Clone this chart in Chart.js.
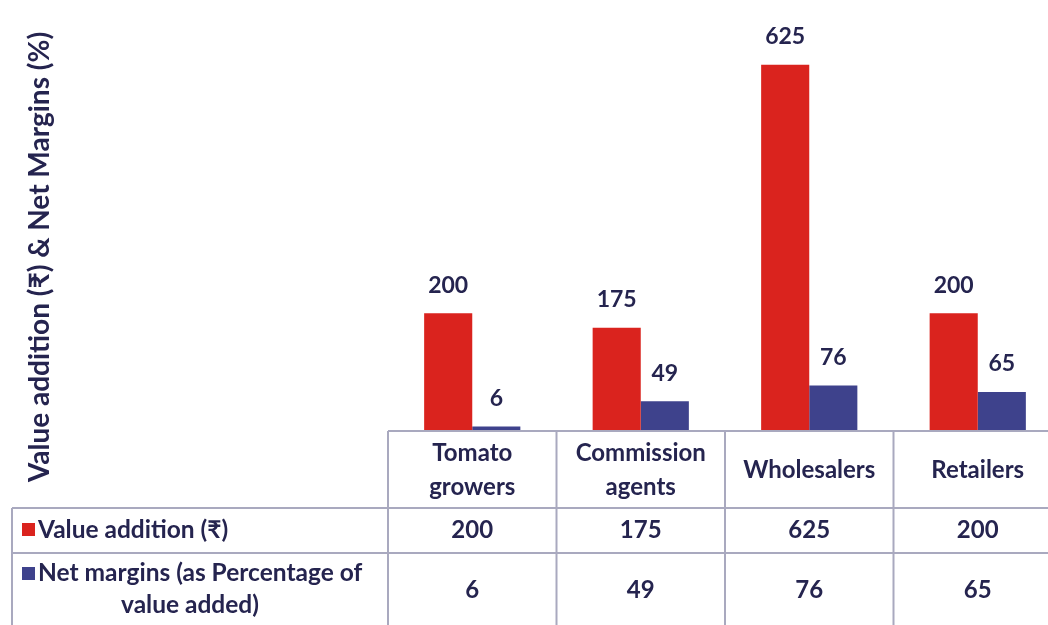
<!DOCTYPE html>
<html>
<head>
<meta charset="utf-8">
<script src="https://cdn.jsdelivr.net/npm/chart.js@4.4.1/dist/chart.umd.min.js"></script>
<style>
  html, body { margin: 0; padding: 0; background: #fff; overflow: hidden; }
  #wrap { width: 1048px; height: 625px; overflow: hidden; }
  #box { width: 1062px; height: 625px; }
</style>
</head>
<body>
<div id="wrap"><div id="box"><canvas id="valueChart"></canvas></div></div>
<script>
const categories = [['Tomato', 'growers'], ['Commission', 'agents'], ['Wholesalers'], ['Retailers']];
const valueAddition = [200, 175, 625, 200];
const netMargins = [6, 49, 76, 65];
const seriesNames = ['Value addition (₹)', ['Net margins (as Percentage of', 'value added)']];
const axisTitle = 'Value addition (₹) & Net Margins (%)';

const RED = 'rgb(218,35,30)';
const BLUE = 'rgb(62,66,140)';
const INK = '#25244f';
const LINE = '#a9a9bf';
const FONT = "Lato, 'Noto Sans', sans-serif";

// bar value labels, y axis title and the data table under the plot
const tablePlugin = {
  id: 'tablePlugin',
  afterDatasetsDraw(chart) {
    const ctx = chart.ctx;
    ctx.save();
    ctx.fillStyle = INK;
    ctx.font = 'bold 23px ' + FONT;
    ctx.textAlign = 'center';
    ctx.textBaseline = 'middle';
    chart.data.datasets.forEach((ds, i) => {
      chart.getDatasetMeta(i).data.forEach((bar, j) => {
        ctx.fillText(String(ds.data[j]), bar.x, bar.y - 28);
      });
    });
    ctx.restore();
  },
  afterDraw(chart) {
    const ctx = chart.ctx;
    const area = chart.chartArea;
    const xs = chart.scales.x;
    const step = (area.right - area.left) / categories.length;
    const bottom = chart.height;
    ctx.save();

    // grid of the table
    ctx.strokeStyle = LINE;
    ctx.lineWidth = 2;
    ctx.beginPath();
    ctx.moveTo(area.left, 431); ctx.lineTo(chart.width, 431);
    ctx.moveTo(12, 508); ctx.lineTo(chart.width, 508);
    ctx.moveTo(12, 553); ctx.lineTo(chart.width, 553);
    ctx.moveTo(12, 508); ctx.lineTo(12, bottom);
    for (let i = 0; i < categories.length; i++) {
      const x = area.left + i * step;
      ctx.moveTo(x, 431); ctx.lineTo(x, bottom);
    }
    ctx.stroke();

    ctx.fillStyle = INK;
    ctx.textBaseline = 'middle';
    ctx.textAlign = 'center';
    ctx.font = 'bold 24px ' + FONT;
    categories.forEach((lines, i) => {
      const cx = xs.getPixelForValue(i);
      if (lines.length === 2) {
        ctx.fillText(lines[0], cx, 453);
        ctx.fillText(lines[1], cx, 487);
      } else {
        ctx.fillText(lines[0], cx, 470);
      }
      ctx.fillText(String(valueAddition[i]), cx, 530);
      ctx.fillText(String(netMargins[i]), cx, 590);
    });

    // legend keys
    ctx.fillStyle = RED;
    ctx.fillRect(22, 523, 13, 13);
    ctx.fillStyle = BLUE;
    ctx.fillRect(22, 567, 13, 13);
    ctx.fillStyle = INK;
    ctx.textAlign = 'left';
    ctx.font = 'bold 24.5px ' + FONT;
    ctx.fillText(seriesNames[0], 38, 530);
    ctx.fillText(seriesNames[1][0], 38, 573);
    ctx.textAlign = 'center';
    ctx.fillText(seriesNames[1][1], 190, 605);

    // y axis title
    ctx.translate(40, 257);
    ctx.rotate(-Math.PI / 2);
    ctx.font = 'bold 28px ' + FONT;
    ctx.fillText(axisTitle, 0, 0);
    ctx.restore();
  }
};

new Chart(document.getElementById('valueChart'), {
  type: 'bar',
  data: {
    labels: categories.map(c => c.join(' ')),
    datasets: [{
      label: seriesNames[0],
      data: valueAddition,
      backgroundColor: RED,
      barPercentage: 1,
      categoryPercentage: 0.571
    }, {
      label: seriesNames[1].join(' '),
      data: netMargins,
      backgroundColor: BLUE,
      barPercentage: 1,
      categoryPercentage: 0.571
    }]
  },
  options: {
    responsive: true,
    maintainAspectRatio: false,
    animation: false,
    layout: { padding: { left: 388, right: 0, top: 0, bottom: 195 } },
    plugins: { legend: { display: false }, tooltip: { enabled: false } },
    scales: {
      x: { display: false },
      y: { display: false, min: 0, max: 736 }
    }
  },
  plugins: [tablePlugin]
});
</script>
</body>
</html>
